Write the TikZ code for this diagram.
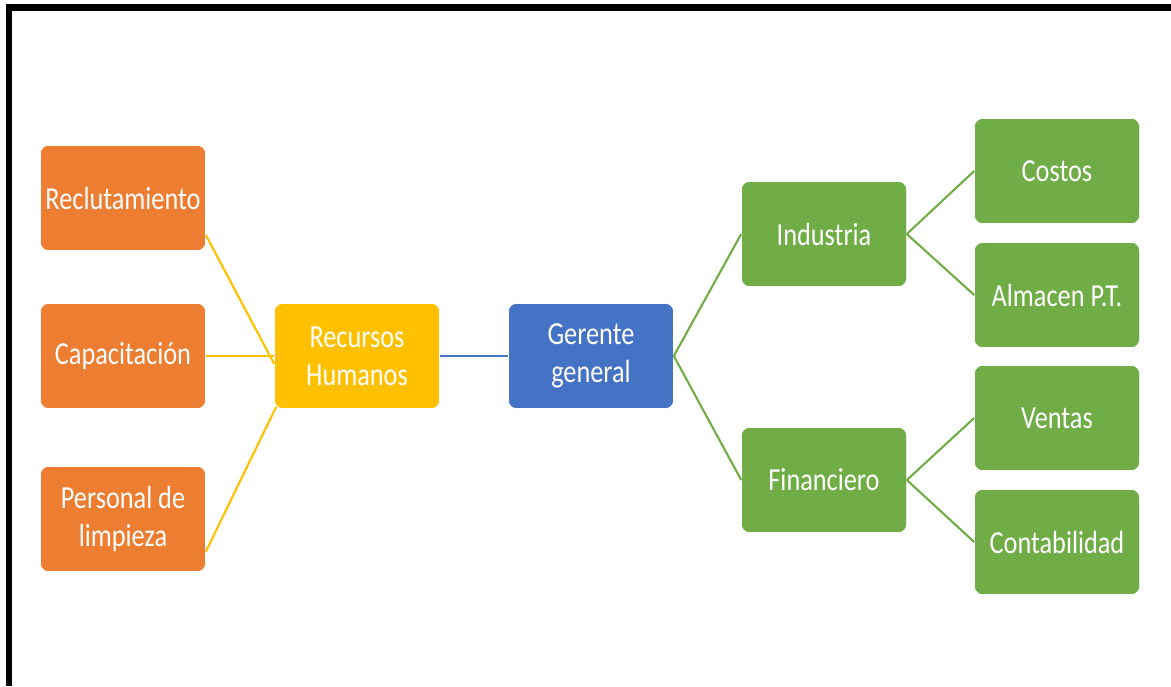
\documentclass[tikz,border=0pt]{standalone}
\usepackage{fontspec}
\setmainfont{Carlito}[FakeStretch=0.82]
\usetikzlibrary{calc}
\definecolor{naranja}{HTML}{ED7D31}
\definecolor{amarillo}{HTML}{FFC000}
\definecolor{azul}{HTML}{4472C4}
\definecolor{verde}{HTML}{70AD47}

\begin{document}
\begin{tikzpicture}[x=0.025cm, y=-0.025cm,
    caja/.style={rounded corners=0.2cm, minimum width=4.125cm, minimum height=2.625cm,
      inner sep=0pt, draw=white, line width=0.4pt, text=white, align=center,
      font=\fontsize{22.8}{27}\selectfont},
    liga/.style={line width=1.5pt}]
        \useasboundingbox (0, 0) rectangle (1171, 686);
        \draw[line width=4.6pt] (9, 686) -- (9, 7.5) -- (1171, 7.5);

        % recursos humanos
        \node[caja, fill=naranja] (rec) at (123, 198) {Reclutamiento};
        \node[caja, fill=naranja] (cap) at (123, 356) {Capacitación};
        \node[caja, fill=naranja] (per) at (123, 519) {Personal de\\limpieza};
        \node[caja, fill=amarillo] (rh) at (357, 356) {Recursos\\Humanos};

        \node[caja, fill=azul] (gg) at (591, 356) {Gerente\\general};

        % areas
        \node[caja, fill=verde] (ind) at (824, 234) {Industria};
        \node[caja, fill=verde] (fin) at (824, 480) {Financiero};
        \node[caja, fill=verde] (cos) at (1057, 171) {Costos};
        \node[caja, fill=verde] (alm) at (1057, 295) {Almacen P.T.};
        \node[caja, fill=verde] (ven) at (1057, 418) {Ventas};
        \node[caja, fill=verde] (con) at (1057, 542) {Contabilidad};

        \draw[liga, amarillo] ($(rec.south east)!0.3!(rec.east)$) -- ($(rh.west)!0.15!(rh.south west)$);
        \draw[liga, amarillo] (cap.east) -- (rh.west);
        \draw[liga, amarillo] ($(per.south east)!0.38!(per.east)$) -- ($(rh.south west)+(2, -2)$);
        \draw[liga, azul] (rh.east) -- (gg.west);

        \draw[liga, verde] (gg.east) -- (ind.west);
        \draw[liga, verde] (gg.east) -- (fin.west);
        \draw[liga, verde] (ind.east) -- (cos.west);
        \draw[liga, verde] (ind.east) -- (alm.west);
        \draw[liga, verde] (fin.east) -- (ven.west);
        \draw[liga, verde] (fin.east) -- (con.west);

      \end{tikzpicture}
\end{document}
